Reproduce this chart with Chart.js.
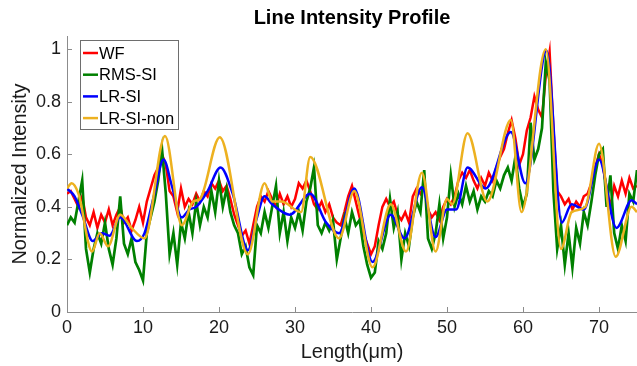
<!DOCTYPE html>
<html>
<head>
<meta charset="utf-8">
<script src="https://cdn.jsdelivr.net/npm/chart.js@4.4.1/dist/chart.umd.min.js"></script>
<style>
  html, body { margin: 0; padding: 0; background: #fff; }
</style>
</head>
<body>
<canvas id="profileChart" width="637" height="366"></canvas>
<script>
// sample spacing (um) of the raw profiles
const sampleStep = 0.5;

// WF profile, one value every 0.5 um from 0 to 75
const wfValues = [
  0.45, 0.46, 0.43, 0.40, 0.44, 0.36, 0.33, 0.38, 0.32, 0.37,
  0.34, 0.39, 0.33, 0.37, 0.40, 0.34, 0.36, 0.31, 0.35, 0.40,
  0.34, 0.42, 0.47, 0.52, 0.55, 0.60, 0.56, 0.46, 0.44, 0.38,
  0.47, 0.40, 0.43, 0.41, 0.45, 0.42, 0.46, 0.44, 0.49, 0.47,
  0.50, 0.46, 0.48, 0.43, 0.37, 0.33, 0.29, 0.31, 0.26, 0.33,
  0.40, 0.44, 0.42, 0.46, 0.43, 0.40, 0.45, 0.41, 0.44, 0.40,
  0.43, 0.49, 0.47, 0.50, 0.46, 0.41, 0.39, 0.42, 0.38, 0.41,
  0.36, 0.34, 0.33, 0.38, 0.44, 0.48, 0.42, 0.36, 0.30, 0.26,
  0.22, 0.25, 0.33, 0.40, 0.43, 0.40, 0.42, 0.37, 0.35, 0.38,
  0.34, 0.44, 0.47, 0.45, 0.48, 0.39, 0.36, 0.38, 0.35, 0.40,
  0.43, 0.41, 0.44, 0.50, 0.53, 0.51, 0.54, 0.50, 0.47, 0.51,
  0.48, 0.53, 0.50, 0.55, 0.59, 0.62, 0.68, 0.73, 0.66, 0.56,
  0.60, 0.69, 0.74, 0.82, 0.77, 0.74, 0.90, 0.99, 0.70, 0.46,
  0.44, 0.41, 0.43, 0.39, 0.42, 0.40, 0.44, 0.45, 0.49, 0.55,
  0.60, 0.56, 0.47, 0.40, 0.48, 0.44, 0.50, 0.45, 0.51, 0.47,
  0.48
];

// RMS-SI profile, same sampling
const rmsValues = [
  0.33, 0.36, 0.34, 0.42, 0.50, 0.24, 0.15, 0.24, 0.30, 0.26,
  0.34, 0.24, 0.18, 0.28, 0.44, 0.26, 0.22, 0.28, 0.19, 0.16,
  0.12, 0.30, 0.36, 0.42, 0.50, 0.62, 0.45, 0.22, 0.30, 0.18,
  0.34, 0.28, 0.38, 0.30, 0.42, 0.33, 0.40, 0.36, 0.46, 0.38,
  0.50, 0.40, 0.47, 0.38, 0.33, 0.30, 0.22, 0.25, 0.17, 0.14,
  0.33, 0.30, 0.38, 0.32, 0.40, 0.48, 0.30, 0.38, 0.27, 0.36,
  0.32, 0.38, 0.31, 0.42, 0.47, 0.55, 0.33, 0.30, 0.34, 0.31,
  0.35, 0.20, 0.28, 0.36, 0.30, 0.38, 0.33, 0.35, 0.25, 0.18,
  0.13, 0.15, 0.27, 0.24, 0.30, 0.43, 0.32, 0.38, 0.20, 0.30,
  0.25, 0.36, 0.42, 0.38, 0.54, 0.28, 0.24, 0.30, 0.41, 0.28,
  0.36, 0.52, 0.40, 0.45, 0.41, 0.48, 0.42, 0.46, 0.39, 0.44,
  0.42, 0.46, 0.44, 0.50, 0.47, 0.52, 0.55, 0.50, 0.59, 0.47,
  0.40, 0.45, 0.72, 0.58, 0.62, 0.70, 0.95, 0.88, 0.46, 0.24,
  0.33, 0.18, 0.30, 0.17, 0.32, 0.26, 0.38, 0.33, 0.42, 0.52,
  0.60, 0.62, 0.40, 0.52, 0.30, 0.24, 0.33, 0.27, 0.45, 0.42,
  0.54
];

// LR-SI: turning points of the smooth curve
const lrX = [0, 1, 2, 3.4, 4.6, 5.6, 7, 9.2, 10.2, 11.5, 12.7, 13.8, 15.1, 16.1, 17, 18.5,
  20.2, 21.8, 23.8, 25, 26, 27, 29.3, 32, 34.1, 35.8, 37.8, 40.2, 42.6, 44.4, 46.7, 48.5,
  50, 51.2, 52.7, 55.1, 58.4, 60.3, 63.1, 65.1, 66.4, 68, 70, 72.3, 74.3, 75];
const lrY = [0.47, 0.44, 0.37, 0.27, 0.30, 0.29, 0.36, 0.27, 0.30, 0.45, 0.58, 0.48, 0.36, 0.39, 0.40, 0.46,
  0.55, 0.45, 0.235, 0.36, 0.44, 0.41, 0.37, 0.45, 0.34, 0.30, 0.47, 0.19, 0.37, 0.28, 0.475, 0.285,
  0.39, 0.39, 0.55, 0.47, 0.685, 0.49, 0.995, 0.34, 0.41, 0.39, 0.58, 0.32, 0.425, 0.41];

// LR-SI-non: turning points of the smooth curve
const lrNonX = [0, 0.6, 1.5, 3.3, 4.3, 5.4, 7, 8.5, 10.2, 12.9, 15.1, 16.6, 17.5, 20.1, 23.8, 26,
  27, 28.2, 30.8, 32, 35.8, 37.8, 40.2, 42.6, 44.6, 46.7, 48.5, 50, 50.7, 52.7, 55.3, 58.4,
  59.8, 63, 65, 66.4, 68.2, 70, 72.2, 74.3, 75];
const lrNonY = [0.47, 0.49, 0.45, 0.23, 0.30, 0.25, 0.37, 0.32, 0.28, 0.67, 0.33, 0.42, 0.43, 0.665, 0.22, 0.49,
  0.42, 0.42, 0.38, 0.59, 0.28, 0.46, 0.17, 0.41, 0.23, 0.53, 0.23, 0.43, 0.41, 0.68, 0.42, 0.73,
  0.38, 1.0, 0.24, 0.38, 0.40, 0.64, 0.21, 0.40, 0.38];

const seriesNames = ["WF", "RMS-SI", "LR-SI", "LR-SI-non"];
const seriesColors = ["#ff0000", "#008000", "#0000ff", "#edb120"];

const xTicks = [0, 10, 20, 30, 40, 50, 60, 70];
const yTicks = [0, 0.2, 0.4, 0.6, 0.8, 1];

const fontFamily = '"Liberation Sans", Arial, Helvetica, sans-serif';
const axisGray = "#8c8c8c";

function sampled(values) {
  return values.map((v, i) => ({ x: i * sampleStep, y: v }));
}
function paired(xs, ys) {
  return xs.map((x, i) => ({ x: x, y: ys[i] }));
}

// legend box in the upper left corner + inward tick marks
const extrasPlugin = {
  id: "extras",
  afterDraw(chart) {
    const ctx = chart.ctx;
    const xs = chart.scales.x;
    const ys = chart.scales.y;
    ctx.save();
    ctx.strokeStyle = axisGray;
    ctx.lineWidth = 1;
    xTicks.forEach((t) => {
      const px = Math.round(xs.getPixelForValue(t)) + 0.5;
      ctx.beginPath();
      ctx.moveTo(px, ys.bottom);
      ctx.lineTo(px, ys.bottom - 5);
      ctx.stroke();
    });
    yTicks.forEach((t) => {
      const py = Math.round(ys.getPixelForValue(t)) + 0.5;
      ctx.beginPath();
      ctx.moveTo(xs.left, py);
      ctx.lineTo(xs.left + 5, py);
      ctx.stroke();
    });

    // legend
    const bx = 80.5, by = 40.5, bw = 98, bh = 89;
    ctx.fillStyle = "#fff";
    ctx.fillRect(bx, by, bw, bh);
    ctx.strokeStyle = "#6e6e6e";
    ctx.strokeRect(bx, by, bw, bh);
    ctx.font = "16.5px " + fontFamily;
    ctx.textBaseline = "middle";
    seriesNames.forEach((name, i) => {
      const y = 53 + i * 21.7;
      ctx.strokeStyle = seriesColors[i];
      ctx.lineWidth = 2.5;
      ctx.beginPath();
      ctx.moveTo(83, y);
      ctx.lineTo(98, y);
      ctx.stroke();
      ctx.fillStyle = "#000";
      ctx.fillText(name, 99, y + 1);
    });
    ctx.restore();
  },
};

const ctx = document.getElementById("profileChart").getContext("2d");

const myChart = new Chart(ctx, {
  type: "line",
  data: {
    datasets: [
      {
        label: seriesNames[0],
        data: sampled(wfValues),
        borderColor: seriesColors[0],
        borderWidth: 2.5,
        pointRadius: 0,
        tension: 0,
        order: 4,
      },
      {
        label: seriesNames[1],
        data: sampled(rmsValues),
        borderColor: seriesColors[1],
        borderWidth: 2.7,
        pointRadius: 0,
        tension: 0,
        order: 3,
      },
      {
        label: seriesNames[2],
        data: paired(lrX, lrY),
        borderColor: seriesColors[2],
        borderWidth: 2.5,
        pointRadius: 0,
        cubicInterpolationMode: "monotone",
        order: 2,
      },
      {
        label: seriesNames[3],
        data: paired(lrNonX, lrNonY),
        borderColor: seriesColors[3],
        borderWidth: 2.5,
        pointRadius: 0,
        cubicInterpolationMode: "monotone",
        order: 1,
      },
    ],
  },
  options: {
    responsive: false,
    animation: false,
    layout: { padding: { left: 0, right: 0, top: 0, bottom: 0 } },
    plugins: {
      legend: { display: false },
      tooltip: { enabled: false },
      title: {
        display: true,
        text: "Line Intensity Profile",
        fullSize: false,
        color: "#000",
        font: { family: fontFamily, size: 20, weight: "bold" },
        padding: { top: 6, bottom: 6 },
      },
    },
    scales: {
      x: {
        type: "linear",
        min: 0,
        max: 75,
        grid: { display: false, drawTicks: false },
        border: { display: true, color: axisGray, width: 1 },
        ticks: {
          stepSize: 10,
          includeBounds: false,
          color: "#1a1a1a",
          padding: 5,
          maxRotation: 0,
          font: { family: fontFamily, size: 18 },
        },
        title: {
          display: true,
          text: "Length(μm)",
          color: "#1a1a1a",
          font: { family: fontFamily, size: 20 },
          padding: { top: 0, bottom: 2 },
        },
        afterFit: (scale) => {
          scale.height = 54;
        },
      },
      y: {
        min: 0,
        max: 1.05,
        grid: { display: false, drawTicks: false },
        border: { display: true, color: axisGray, width: 1 },
        ticks: {
          stepSize: 0.2,
          includeBounds: false,
          color: "#1a1a1a",
          padding: 6,
          font: { family: fontFamily, size: 18 },
          callback: (v) => +v.toFixed(1),
        },
        title: {
          display: true,
          text: "Normalized Intensity",
          color: "#1a1a1a",
          font: { family: fontFamily, size: 20 },
          padding: { top: 8, bottom: 0 },
        },
        afterFit: (scale) => {
          scale.width = 67;
        },
      },
    },
  },
  plugins: [extrasPlugin],
});
</script>
</body>
</html>
